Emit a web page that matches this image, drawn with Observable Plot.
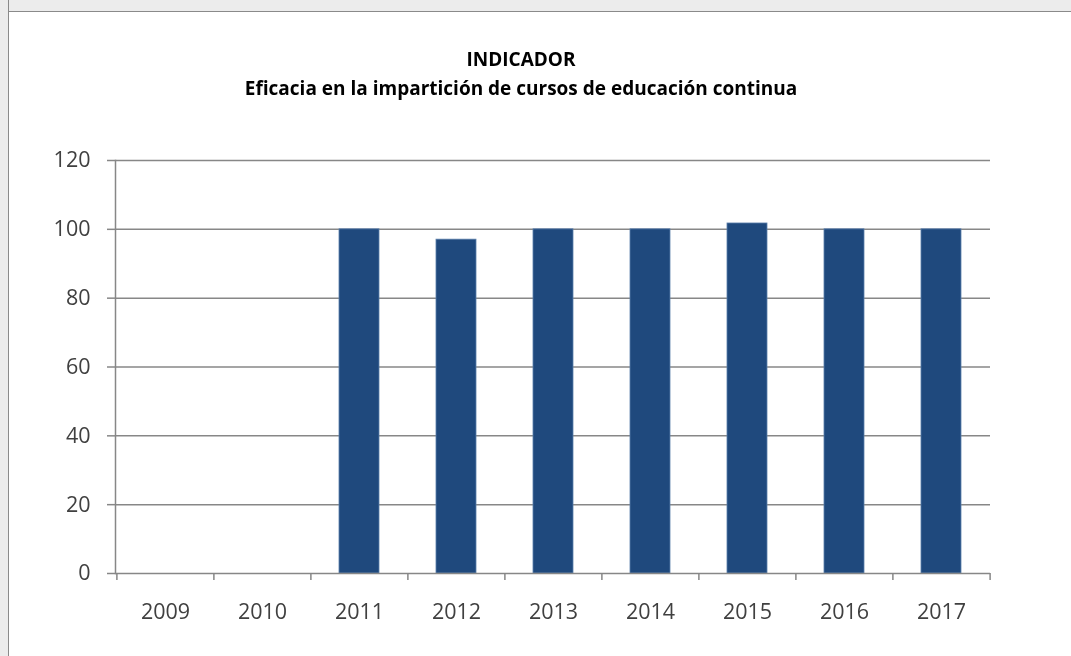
<!DOCTYPE html>
<html>
<head>
<meta charset="utf-8">
<script src="https://cdn.jsdelivr.net/npm/d3@7"></script>
<script src="https://cdn.jsdelivr.net/npm/@observablehq/plot@0.6"></script>
<style>
  html, body { margin: 0; padding: 0; background: #fff; overflow: hidden !important; width: 100%; height: 100%; scrollbar-width: none; }
  ::-webkit-scrollbar { display: none; width: 0; height: 0; }
  #stripTop { position: fixed; left: 0; top: 0; right: 0; height: 11px; background: #ececec; border-bottom: 1.5px solid #8a8a8a; }
  #stripLeft { position: fixed; left: 0; top: 0; bottom: 0; width: 8px; background: #ececec; border-right: 1.5px solid #8a8a8a; }
  #chart { position: fixed; left: 0; top: 0; width: 1071px; height: 640px; overflow: hidden; }
  #chart svg { display: block; }
  .title { position: fixed; left: 0; width: 1042px; text-align: center; font-family: "Open Sans", sans-serif; font-weight: 700; font-size: 19px; line-height: 19px; color: #000; white-space: nowrap; }
</style>
</head>
<body>
<div id="stripTop"></div>
<div id="stripLeft"></div>
<div class="title" style="top:50px">INDICADOR</div>
<div class="title" style="top:79px">Eficacia en la impartición de cursos de educación continua</div>
<div id="chart"></div>
<script>
const years = ["2009", "2010", "2011", "2012", "2013", "2014", "2015", "2016", "2017"];
const values = [null, null, 100, 97, 100, 100, 101.7, 100, 100];
const yTicks = [0, 20, 40, 60, 80, 100, 120];

const data = years.map((year, i) => ({year, value: values[i]})).filter(d => d.value != null);

const W = 1071, H = 640;
const mL = 115, mR = 81, mT = 160, mB = H - 573;
const step = (W - mL - mR) / years.length;

const plot = Plot.plot({
  width: W,
  height: H,
  marginLeft: mL,
  marginRight: mR,
  marginTop: mT,
  marginBottom: mB,
  style: {background: "transparent", fontFamily: "Open Sans, sans-serif", fontSize: "21.5px", color: "#404040"},
  x: {domain: years, paddingInner: 0.59, paddingOuter: 0.295, label: null},
  y: {domain: [0, 120], label: null},
  marks: [
    Plot.ruleY(yTicks.filter(t => t > 0), {stroke: "#878787", strokeWidth: 1.5}),
    Plot.barY(data, {x: "year", y: "value", fill: "#1f497d", stroke: "#5b7fab", strokeWidth: 0.8}),
    Plot.ruleY([0], {stroke: "#878787", strokeWidth: 1.5}),
    Plot.frame({anchor: "left", stroke: "#878787", strokeWidth: 1.5}),
    Plot.axisY({ticks: yTicks, tickSize: 8, tickPadding: 17, stroke: "#878787", strokeWidth: 1.5, fill: "#404040", label: null}),
    Plot.axisX({tickSize: 0, tickPadding: 30, fill: "#404040", label: null}),
    Plot.axisX(years, {tickSize: 7, dx: -step / 2, text: null, stroke: "#878787", strokeWidth: 1.5, label: null}),
    Plot.axisX([years[years.length - 1]], {tickSize: 7, dx: step / 2, text: null, stroke: "#878787", strokeWidth: 1.5, label: null})
  ]
});
document.getElementById("chart").appendChild(plot);
</script>
</body>
</html>
